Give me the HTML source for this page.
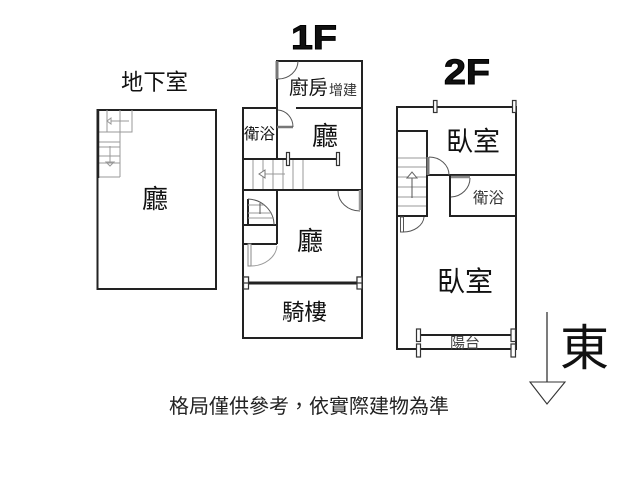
<!DOCTYPE html>
<html><head><meta charset="utf-8"><style>
html,body{margin:0;padding:0;background:#fff}
svg{display:block}
text{font-family:"Liberation Sans","Noto Sans CJK TC",sans-serif;fill:#111}
.k{stroke:#222;fill:none;stroke-width:2}
.t{stroke:#222;fill:none;stroke-width:3}
.g{stroke:#999;fill:none;stroke-width:1}
.d{stroke:#555;fill:none;stroke-width:1}
.w{stroke:#333;fill:#fff;stroke-width:1.2}
</style></head><body>
<svg width="640" height="480" viewBox="0 0 640 480" xmlns="http://www.w3.org/2000/svg">
<!-- Basement -->
<rect x="97.5" y="110" width="118.5" height="179" class="k"/>
<path d="M97.5 132H132V110M107 110V132M120 110V132M98 142H120M98 147H120M98 156H120M98 163H120M98 177H120M120 132V177" class="g"/>
<path d="M98 110V178" class="t" style="stroke-width:2.5"/>
<path d="M129 121H111M111 118l-4 3 4 3zM110 146V162M106 162l4 4 4-4z" class="g"/>
<!-- 1F -->
<path d="M277 108V61H362V338H243V108H277M277 108V159M296 108H362" class="k"/>
<path d="M243 159H337M243 190H362M277 190V244M243 225H277M243 244H277" class="k"/>
<path d="M243 283H362" class="t"/>
<path d="M277 61V79" stroke="#777" stroke-width="3" fill="none"/>
<path d="M298 61A20 18 0 0 1 278 79" class="d"/>
<path d="M277 127H293" stroke="#777" stroke-width="2.5" fill="none"/>
<path d="M278 110A16 17 0 0 1 293 127" class="d"/>
<rect x="286.500" y="152.500" width="3" height="13" class="w"/>
<rect x="336.500" y="152.500" width="3" height="13" class="w"/>
<path d="M253 160V189M263 160V189M273 160V189M283 160V189M293 160V189M303 160V189" class="g"/>
<path d="M285 174H265" class="g"/>
<path d="M265 170l-6 4 6 4z" fill="#fff" stroke="#777"/>
<path d="M360 190V210" stroke="#999" stroke-width="2.5" fill="none"/>
<path d="M338 191A22 20 0 0 0 360 211" class="d"/>
<path d="M248 199V225" stroke="#222" stroke-width="2" fill="none"/>
<path d="M248 199A27 26 0 0 1 274 225" class="d"/>
<path d="M248 205H264M248 213H272M248 218H274" class="g"/>
<path d="M260 203V214" class="d"/>
<rect x="248" y="244" width="3" height="22" fill="#fff" stroke="#888"/>
<path d="M251 266A26 22 0 0 0 277 246" class="g"/>
<rect x="243.500" y="277" width="5" height="12" class="w"/>
<rect x="243.500" y="277" width="5" height="6" class="w"/>
<rect x="357" y="277" width="5" height="12" class="w"/>
<rect x="357" y="277" width="5" height="6" class="w"/>
<!-- 2F -->
<path d="M397 107H516V349H397Z" class="k"/>
<path d="M397 131H427V216H397M427 175H516M450 175V216H516" class="k"/>
<path d="M398 158H426M398 167H426M398 177H426M398 187H426M398 197H426M398 206H426" class="g"/>
<path d="M412 198V178" class="d"/>
<path d="M407 178l5-6 5 6z" fill="#fff" stroke="#666"/>
<path d="M428 157V175" stroke="#777" stroke-width="3" fill="none"/>
<path d="M429 157A20 18 0 0 1 449 175" class="d"/>
<path d="M451 177H470" stroke="#888" stroke-width="2.5" fill="none"/>
<path d="M470 178A20 19 0 0 1 451 197" class="d"/>
<rect x="400.500" y="217" width="3" height="15" fill="#fff" stroke="#555"/>
<path d="M403 232A21 16 0 0 0 424 217" class="d"/>
<rect x="433.500" y="100.500" width="3.500" height="12" class="w"/>
<rect x="512.500" y="100.500" width="3.500" height="12" class="w"/>
<path d="M417 335H513" class="k"/>
<rect x="416.500" y="329" width="4" height="12.500" class="w"/>
<rect x="416.500" y="344" width="4" height="13" class="w"/>
<rect x="511" y="329" width="4.500" height="12.500" class="w"/>
<rect x="511" y="344" width="4.500" height="13" class="w"/>
<!-- Compass -->
<path d="M547 312V382" stroke="#444" stroke-width="1.4" fill="none"/>
<path d="M530 382H565L547 404Z" fill="#fff" stroke="#333" stroke-width="1.1"/>
<!-- Labels -->
<text x="121" y="90" font-size="22.500" textLength="67" lengthAdjust="spacingAndGlyphs">地下室</text>
<text x="155" y="208" font-size="26" text-anchor="middle">廳</text>
<text x="289" y="94" font-size="19.500" textLength="39" lengthAdjust="spacingAndGlyphs">廚房</text>
<text x="329" y="95" font-size="14" textLength="28" lengthAdjust="spacingAndGlyphs" style="fill:#333">增建</text>
<text x="244" y="139" font-size="15.500" textLength="31" lengthAdjust="spacingAndGlyphs">衛浴</text>
<text x="325" y="145" font-size="26" text-anchor="middle">廳</text>
<text x="310" y="250" font-size="26" text-anchor="middle">廳</text>
<text x="282" y="320" font-size="22.500" textLength="45" lengthAdjust="spacingAndGlyphs">騎樓</text>
<text x="446" y="151" font-size="27" textLength="54" lengthAdjust="spacingAndGlyphs">臥室</text>
<text x="473" y="203" font-size="15.500" textLength="31" lengthAdjust="spacingAndGlyphs" style="fill:#333">衛浴</text>
<text x="437" y="291" font-size="28" textLength="56" lengthAdjust="spacingAndGlyphs">臥室</text>
<text x="450" y="348" font-size="15" textLength="30" lengthAdjust="spacingAndGlyphs" style="fill:#444">陽台</text>
<text x="560" y="365" font-size="49" style="fill:#111">東</text>
<text x="169" y="413" font-size="20" style="fill:#222">格局僅供參考&#65292;依實際建物為準</text>
<text x="291" y="49" font-size="34" font-weight="900" textLength="46" lengthAdjust="spacingAndGlyphs" stroke="#000" stroke-width="1">1F</text>
<text x="444" y="84" font-size="35" font-weight="900" textLength="46" lengthAdjust="spacingAndGlyphs" stroke="#000" stroke-width="1">2F</text>
</svg>
</body></html>
